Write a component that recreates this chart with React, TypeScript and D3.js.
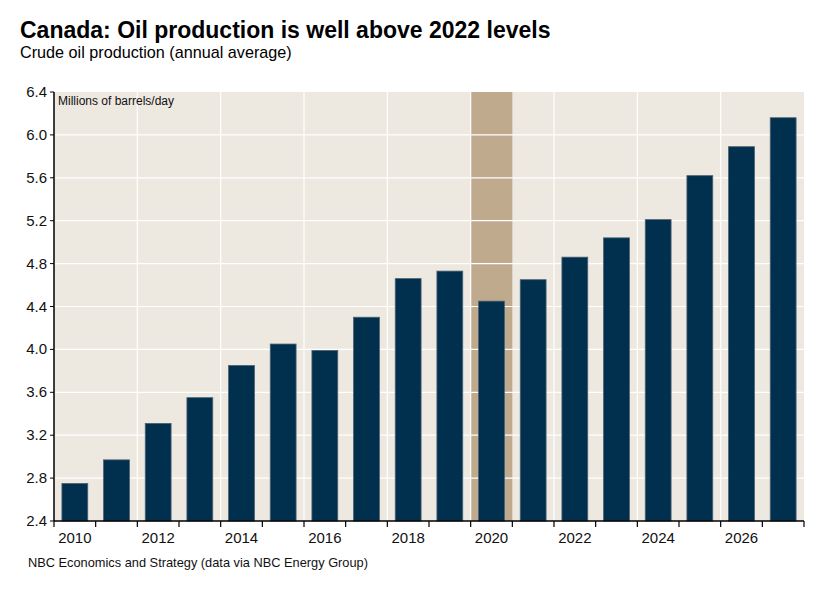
import React, { useEffect, useRef } from 'react';
import * as d3 from 'd3';

const years = [2010, 2011, 2012, 2013, 2014, 2015, 2016, 2017, 2018, 2019, 2020, 2021, 2022, 2023, 2024, 2025, 2026, 2027];
const production = [2.75, 2.97, 3.31, 3.55, 3.85, 4.05, 3.99, 4.3, 4.66, 4.73, 4.45, 4.65, 4.86, 5.04, 5.21, 5.62, 5.89, 6.16];
const yTicks = [2.4, 2.8, 3.2, 3.6, 4.0, 4.4, 4.8, 5.2, 5.6, 6.0, 6.4];
const shadedYears = [2020];

const App: React.FC = () => {
  const ref = useRef<SVGSVGElement>(null);

  useEffect(() => {
    const svg = d3.select(ref.current!);
    svg.selectAll('*').remove();

    const margin = { top: 92, left: 54, right: 28, bottom: 70 };
    const W = 832;
    const H = 591;
    const width = W - margin.left - margin.right;
    const height = H - margin.top - margin.bottom;
    const font = 'Liberation Sans, Arial, sans-serif';

    const g = svg.append('g').attr('transform', `translate(${margin.left},${margin.top})`);

    const x = d3.scaleBand<number>().domain(years).range([0, width]).paddingInner(0).paddingOuter(0);
    const y = d3.scaleLinear().domain([2.4, 6.4]).range([height, 0]);
    const bw = x.bandwidth();
    const barW = bw * 0.62;

    // background
    g.append('rect').attr('width', width).attr('height', height).attr('fill', '#ede8e0');

    // shaded year
    g.selectAll('.shade')
      .data(shadedYears)
      .enter()
      .append('rect')
      .attr('x', (d) => x(d)!)
      .attr('y', 0)
      .attr('width', bw)
      .attr('height', height)
      .attr('fill', '#bfaa8e');

    // horizontal grid
    g.selectAll('.hg')
      .data(yTicks.slice(1, -1))
      .enter()
      .append('line')
      .attr('x1', 0)
      .attr('x2', width)
      .attr('y1', (d) => y(d))
      .attr('y2', (d) => y(d))
      .attr('stroke', '#ffffff')
      .attr('stroke-width', 1.2);

    // vertical grid every 2 years
    g.selectAll('.vg')
      .data(years.filter((d) => d % 2 === 0 && d !== years[0]))
      .enter()
      .append('line')
      .attr('x1', (d) => x(d)!)
      .attr('x2', (d) => x(d)!)
      .attr('y1', 0)
      .attr('y2', height)
      .attr('stroke', '#ffffff')
      .attr('stroke-width', 1.2);

    // bars
    g.selectAll('.bar')
      .data(years)
      .enter()
      .append('rect')
      .attr('x', (d) => x(d)! + (bw - barW) / 2)
      .attr('y', (d, i) => y(production[i]))
      .attr('width', barW)
      .attr('height', (d, i) => height - y(production[i]))
      .attr('fill', '#01304f')
      .attr('stroke', '#4b6072')
      .attr('stroke-width', 0.8);

    // axes lines
    g.append('line').attr('x1', 0).attr('x2', 0).attr('y1', 0).attr('y2', height).attr('stroke', '#000').attr('stroke-width', 1.5);
    g.append('line').attr('x1', 0).attr('x2', width).attr('y1', height).attr('y2', height).attr('stroke', '#000').attr('stroke-width', 1.5);

    // y ticks
    g.selectAll('.yt')
      .data(yTicks)
      .enter()
      .append('line')
      .attr('x1', -4)
      .attr('x2', 0)
      .attr('y1', (d) => y(d))
      .attr('y2', (d) => y(d))
      .attr('stroke', '#000');
    g.selectAll('.yl')
      .data(yTicks)
      .enter()
      .append('text')
      .attr('x', -7)
      .attr('y', (d) => y(d) + 5)
      .attr('text-anchor', 'end')
      .attr('font-family', font)
      .attr('font-size', 15)
      .attr('fill', '#111')
      .text((d) => d.toFixed(1));

    // x ticks at band boundaries
    const boundaries = years.map((d) => x(d)!).concat([width]);
    g.selectAll('.xt')
      .data(boundaries)
      .enter()
      .append('line')
      .attr('x1', (d) => d)
      .attr('x2', (d) => d)
      .attr('y1', height)
      .attr('y2', height + 6)
      .attr('stroke', '#000')
      .attr('stroke-width', 1.2);
    g.selectAll('.xl')
      .data(years.filter((d) => d % 2 === 0))
      .enter()
      .append('text')
      .attr('x', (d) => x(d)! + bw / 2)
      .attr('y', height + 22)
      .attr('text-anchor', 'middle')
      .attr('font-family', font)
      .attr('font-size', 15)
      .attr('fill', '#111')
      .text((d) => String(d));

    g.append('text')
      .attr('x', 4)
      .attr('y', 13)
      .attr('font-family', font)
      .attr('font-size', 12)
      .attr('fill', '#111')
      .text('Millions of barrels/day');

    svg.append('text')
      .attr('x', 20)
      .attr('y', 38)
      .attr('font-family', font)
      .attr('font-size', 23)
      .attr('font-weight', 'bold')
      .attr('fill', '#000')
      .text('Canada: Oil production is well above 2022 levels');
    svg.append('text')
      .attr('x', 20)
      .attr('y', 58)
      .attr('font-family', font)
      .attr('font-size', 16.2)
      .attr('fill', '#000')
      .text('Crude oil production (annual average)');
    svg.append('text')
      .attr('x', 28)
      .attr('y', 567)
      .attr('font-family', font)
      .attr('font-size', 12.8)
      .attr('fill', '#111')
      .text('NBC Economics and Strategy (data via NBC Energy Group)');
  }, []);

  return <svg ref={ref} width={832} height={591} style={{ position: 'absolute', left: 0, top: 0 }} />;
};

export default App;
